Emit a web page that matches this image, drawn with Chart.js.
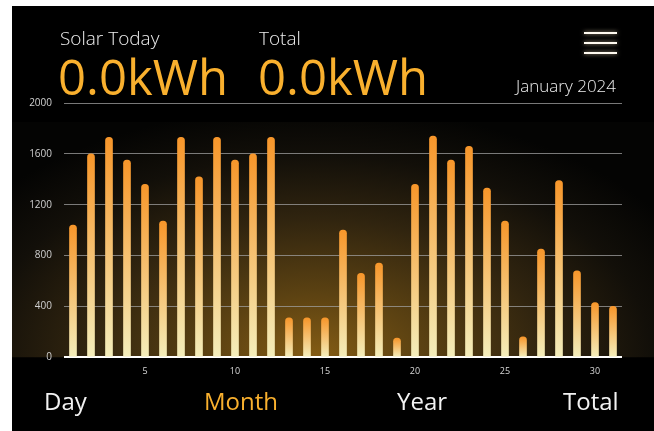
<!DOCTYPE html>
<html>
<head>
<meta charset="utf-8">
<script src="https://cdn.jsdelivr.net/npm/chart.js@4.4.1/dist/chart.umd.min.js"></script>
<style>
  html, body { margin: 0; padding: 0; background: #fff; }
  body { width: 654px; height: 431px; position: relative; overflow: hidden; font-family: "Open Sans", "Noto Sans", sans-serif; }
  .panel { position: absolute; left: 12px; top: 6px; right: 0; bottom: 0; background: #000; }
  #monthChart { position: absolute; left: 0; top: 0; }
  .txt { position: absolute; white-space: nowrap; color: #eee; font-weight: 300; }
  .big { color: #f9b02e; font-size: 49px; font-weight: 500; }
  .menu { position: absolute; left: 584px; width: 33px; height: 2px; background: #fffaf0; box-shadow: 0 0 4px rgba(255, 236, 200, 0.7); }
  .tab { position: absolute; top: 384px; font-size: 24px; color: #f2f2f2; font-weight: 400; }
</style>
</head>
<body>
<div class="panel"></div>
<canvas id="monthChart" width="654" height="431"></canvas>

<div class="txt" style="left:60px; top:25px; font-size:19px;">Solar Today</div>
<div class="txt" style="left:259px; top:25px; font-size:19px;">Total</div>
<div class="txt big" style="left:58px; top:43px;">0.0kWh</div>
<div class="txt big" style="left:258px; top:43px;">0.0kWh</div>
<div class="txt" style="right:38px; top:74px; font-size:17px;">January 2024</div>

<div class="menu" style="top:32px;"></div>
<div class="menu" style="top:42px;"></div>
<div class="menu" style="top:52px;"></div>

<div class="tab" style="left:44px;">Day</div>
<div class="tab" style="left:204px; color:#f9b02e; font-weight:500;">Month</div>
<div class="tab" style="left:397px;">Year</div>
<div class="tab" style="left:563px;">Total</div>

<script>
// 일별 발전량 (Wh)
const days = ['1', '2', '3', '4', '5', '6', '7', '8', '9', '10', '11', '12', '13', '14', '15', '16',
  '17', '18', '19', '20', '21', '22', '23', '24', '25', '26', '27', '28', '29', '30', '31'];
const dailyWh = [1040, 1600, 1730, 1550, 1360, 1070, 1730, 1420, 1730, 1550, 1600, 1730, 310, 310, 310, 1000,
  660, 740, 150, 1360, 1740, 1550, 1660, 1330, 1070, 160, 850, 1390, 680, 430, 400];
const yMax = 2000;
const yStep = 400;
const xTickEvery = 5;

document.addEventListener('DOMContentLoaded', function() {

  // 차트 뒤쪽 금색 글로우 (가로로 넓은 타원) - 축/그리드보다 먼저 그림
  const glowPlugin = {
    id: 'glow',
    beforeDraw(chart) {
      const c = chart.ctx;
      const area = chart.chartArea;
      const top = 122;
      const cx = area.left + (area.right - area.left) * 0.45;
      const sy = 0.6;
      c.save();
      c.beginPath();
      c.rect(12, top, chart.width - 12, area.bottom - top);
      c.clip();
      c.translate(cx, area.bottom);
      c.scale(1, sy);
      const g = c.createRadialGradient(0, 0, 0, 0, 0, 420);
      g.addColorStop(0, 'rgb(132, 92, 20)');
      g.addColorStop(0.25, 'rgb(92, 66, 18)');
      g.addColorStop(0.55, 'rgb(48, 36, 15)');
      g.addColorStop(0.8, 'rgb(18, 15, 9)');
      g.addColorStop(1, 'rgb(4, 4, 3)');
      c.fillStyle = g;
      c.fillRect(-700, -700, 1400, 1400);
      c.restore();
    }
  };

  // 막대마다 위(주황) -> 아래(연노랑) 그라데이션
  function barGradient(ctx) {
    const chart = ctx.chart;
    const y = chart.scales.y;
    if (!chart.chartArea || !y || ctx.raw === undefined) return '#f7962a';
    const top = y.getPixelForValue(ctx.raw);
    const base = y.getPixelForValue(0);
    const g = chart.ctx.createLinearGradient(0, top, 0, base);
    g.addColorStop(0, '#f7962a');
    g.addColorStop(1, '#f4eebb');
    return g;
  }

  const ctx = document.getElementById('monthChart');
  const monthChart = new Chart(ctx, {
    type: 'bar',
    data: {
      labels: days,
      datasets: [{
        data: dailyWh,
        backgroundColor: barGradient,
        borderRadius: 4,
        borderSkipped: 'start',
        barThickness: 7
      }]
    },
    options: {
      responsive: false,
      animation: false,
      layout: { padding: { left: 12, top: 103, right: 32, bottom: 53 } },
      plugins: {
        legend: { display: false },
        tooltip: { enabled: false }
      },
      scales: {
        x: {
          grid: { display: false },
          border: { display: false },
          ticks: {
            autoSkip: false,
            maxRotation: 0,
            padding: 1,
            color: '#d8d8d8',
            font: { family: 'Open Sans', size: 9 },
            callback: (v, i) => ((i + 1) % xTickEvery === 0 ? days[i] : '')
          }
        },
        y: {
          min: 0,
          max: yMax,
          afterFit: (s) => { s.width = 52; },
          border: { display: false },
          grid: {
            drawTicks: false,
            color: (c) => (c.tick && c.tick.value === 0 ? '#ffffff' : 'rgba(160,160,160,0.75)'),
            lineWidth: (c) => (c.tick && c.tick.value === 0 ? 2 : 1)
          },
          ticks: {
            stepSize: yStep,
            padding: 12,
            color: '#d0d0d0',
            font: { family: 'Open Sans', size: 10 },
            callback: (v) => String(v)
          }
        }
      }
    },
    plugins: [glowPlugin]
  });
});
</script>
</body>
</html>
